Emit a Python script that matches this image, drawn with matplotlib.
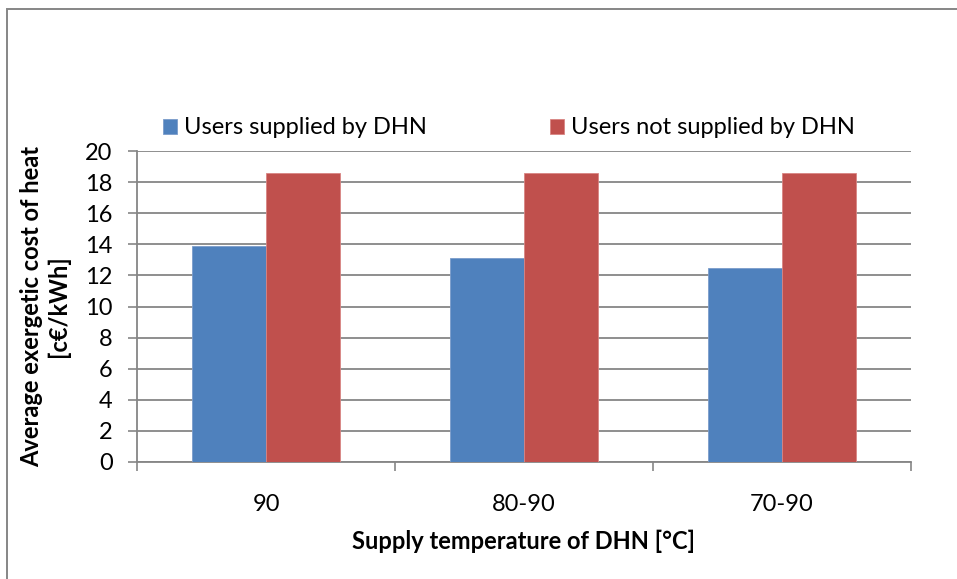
import matplotlib
matplotlib.use("Agg")
import matplotlib.pyplot as plt
from matplotlib.patches import Rectangle
import numpy as np

categories = ["90", "80-90", "70-90"]
supplied = [13.9, 13.1, 12.5]
not_supplied = [18.6, 18.6, 18.6]
series_names = ["Users supplied by DHN", "Users not supplied by DHN"]
y_ticks = list(range(0, 21, 2))

plt.rcParams['font.family'] = ['Lato', 'DejaVu Sans']

W, H = 957, 579
fs = 17
fig = plt.figure(figsize=(W / 100, H / 100), dpi=100)
ax = fig.add_axes([137 / W, 1 - 462 / H, (911 - 137) / W, (462 - 151) / H])

grey = "#868686"
blue = "#4F81BD"
red = "#C0504D"

x = np.arange(len(categories))
bw = 1 / 3.5
b1 = ax.bar(x - bw / 2, supplied, bw, color=blue, edgecolor="#7A9CCB", linewidth=0.6,
            label=series_names[0], zorder=3)
b2 = ax.bar(x + bw / 2, not_supplied, bw, color=red, edgecolor="#D98583", linewidth=0.6,
            label=series_names[1], zorder=3)

ax.set_xlim(-0.5, len(categories) - 0.5)
ax.set_ylim(0, 20)
ax.set_yticks(y_ticks)
ax.yaxis.grid(True, color=grey, linewidth=1.3, zorder=0)
ax.set_axisbelow(True)

ax.set_xticks(x)
ax.set_xticklabels(categories, fontsize=fs)
ax.set_xticks(np.arange(-0.5, len(categories)), minor=True)
ax.tick_params(axis='x', which='major', length=0, pad=23)
ax.tick_params(axis='x', which='minor', length=6.5, width=1.2, color=grey)
ax.tick_params(axis='y', length=6.5, width=1.2, color=grey, labelsize=fs, pad=11)

for s in ["top", "right"]:
    ax.spines[s].set_visible(False)
for s in ["left", "bottom"]:
    ax.spines[s].set_color(grey)
    ax.spines[s].set_linewidth(1.3)

ax.set_ylabel("Average exergetic cost of heat\n[c€/kWh]", fontsize=fs, fontweight="bold",
              linespacing=1.15)
ax.yaxis.set_label_coords(-0.087, 0.5)
ax.set_xlabel("Supply temperature of DHN [°C]", fontsize=fs, fontweight="bold")
ax.xaxis.set_label_coords(0.5, -0.219)

fig.legend(handles=[b1, b2], loc="center", bbox_to_anchor=(509 / W, 1 - 128 / H),
           ncol=2, frameon=False, fontsize=fs, handlelength=0.6, handleheight=0.6,
           handletextpad=0.3, columnspacing=5.2)

fig.patches.append(Rectangle((7.5 / W, -0.1), 1.2, 1.1 - 9.5 / H, transform=fig.transFigure,
                             fill=False, edgecolor=grey, linewidth=1.4))

fig.savefig("out.png", dpi=100, facecolor="white")
